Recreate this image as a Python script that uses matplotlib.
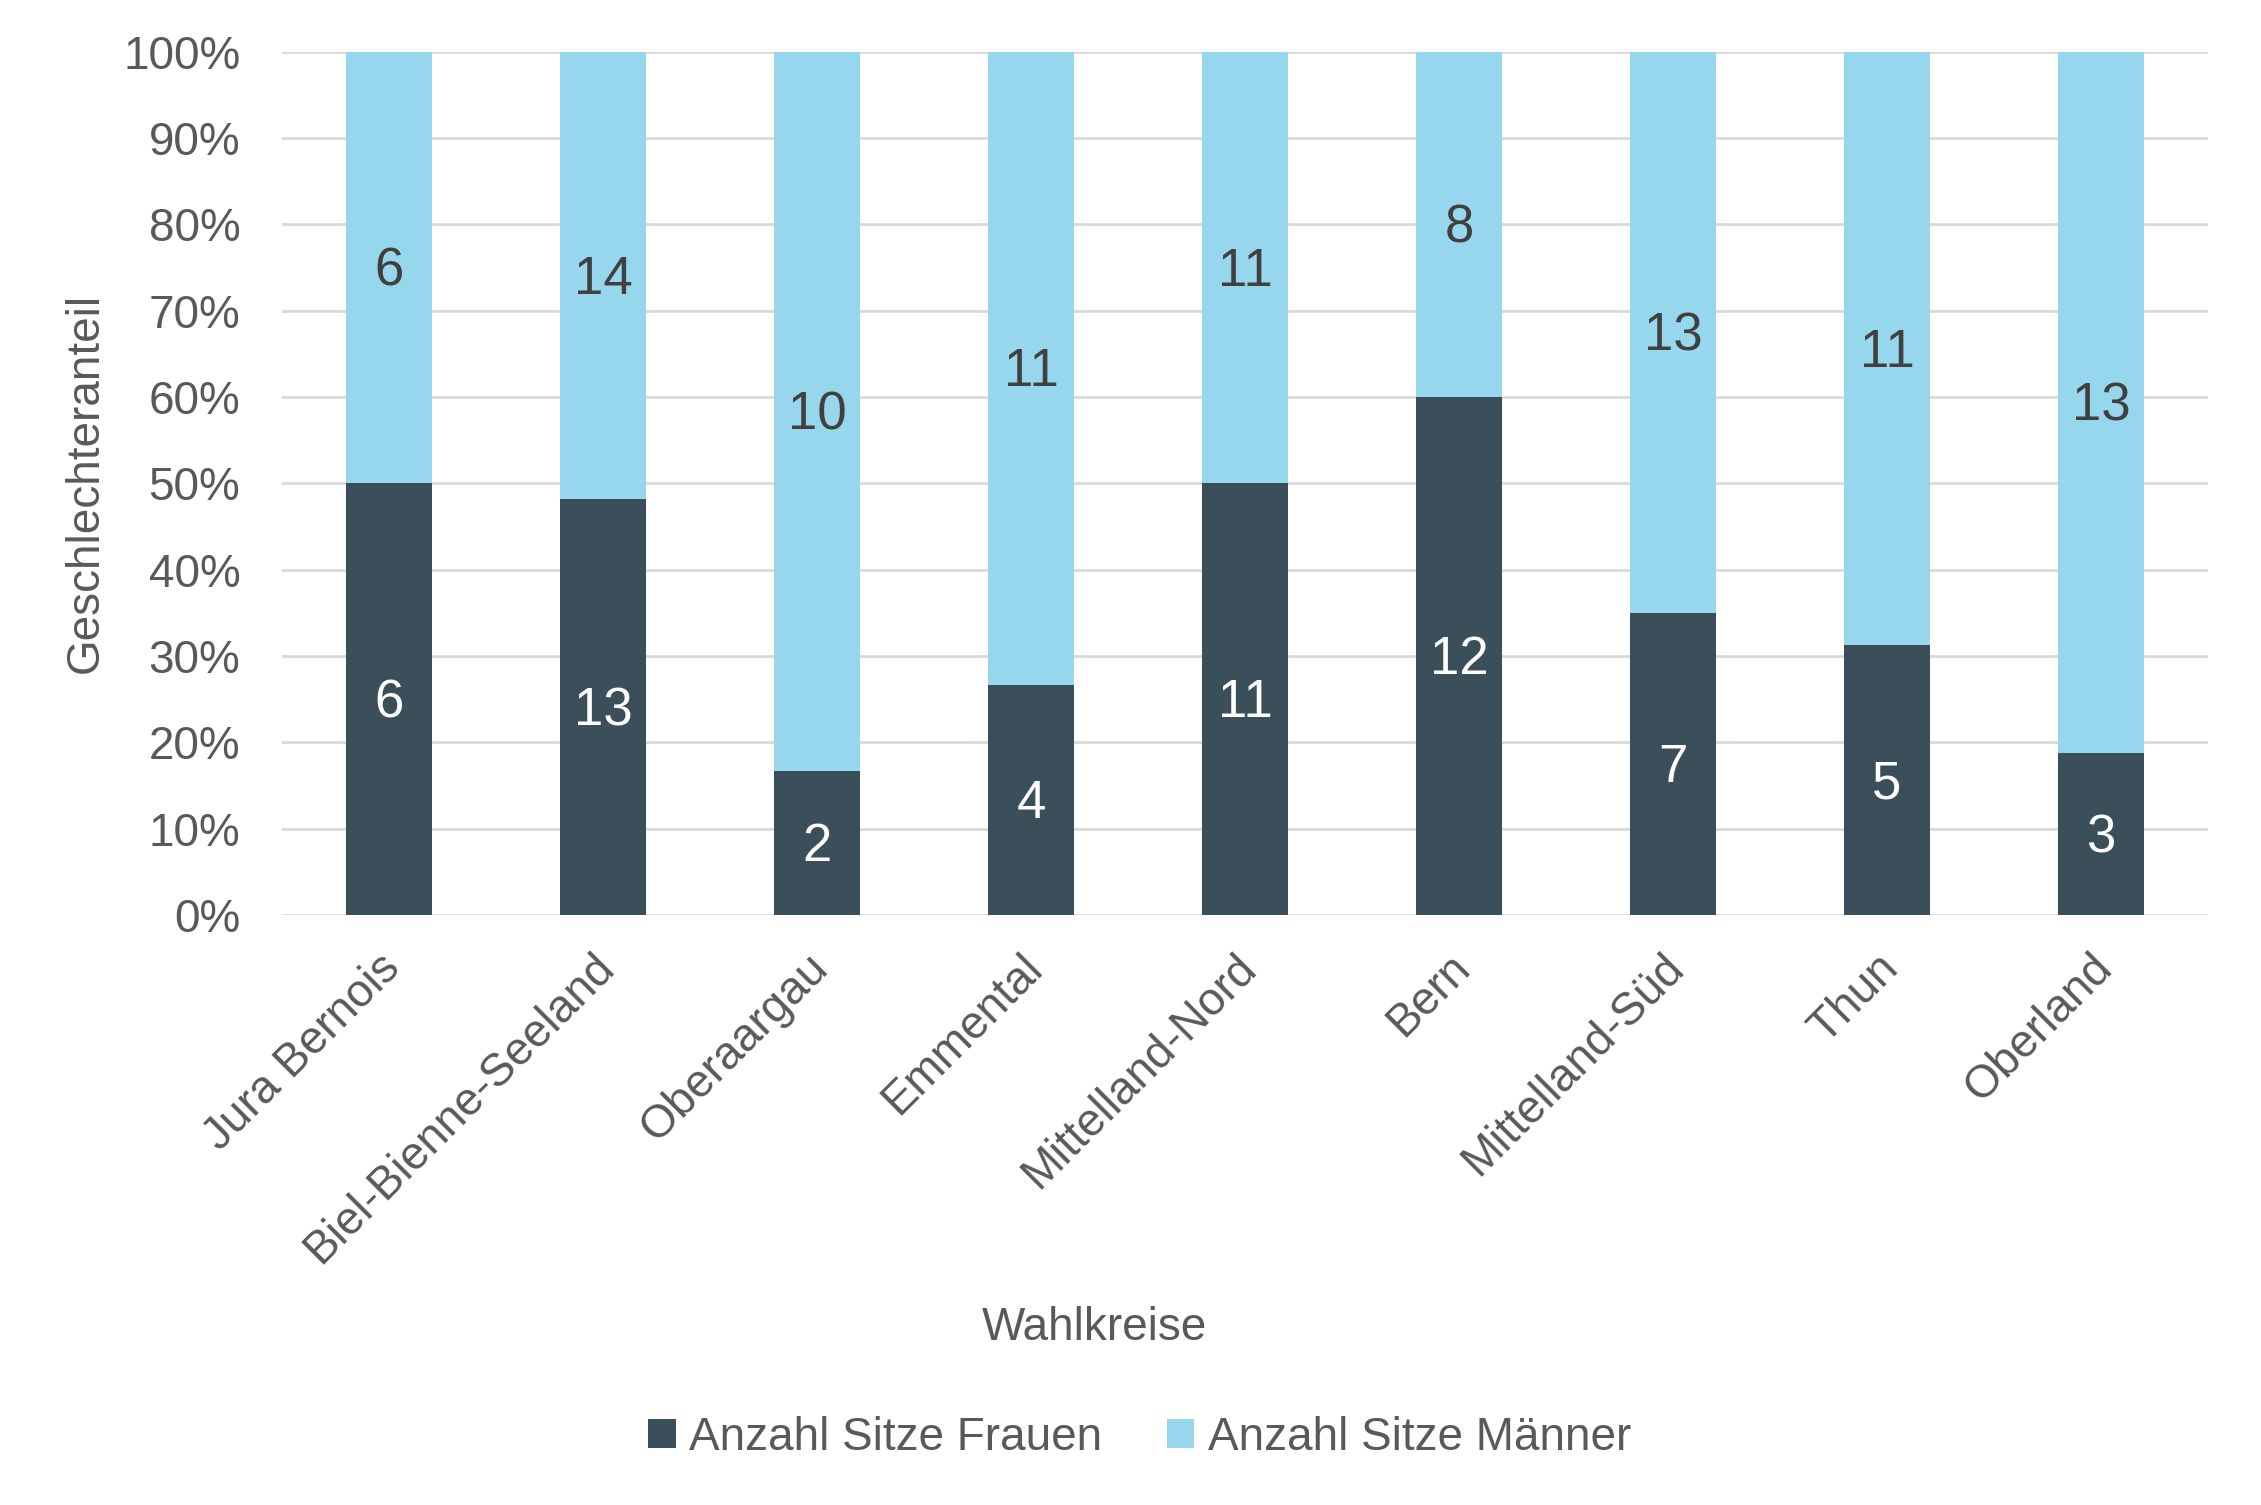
import matplotlib.pyplot as plt
import matplotlib.transforms as mtransforms
import numpy as np
from matplotlib.ticker import PercentFormatter

plt.rcParams['font.family'] = ['Liberation Sans', 'DejaVu Sans']

wahlkreise = ["Jura Bernois", "Biel-Bienne-Seeland", "Oberaargau", "Emmental",
              "Mittelland-Nord", "Bern", "Mittelland-Süd", "Thun", "Oberland"]
frauen = [6, 13, 2, 4, 11, 12, 7, 5, 3]
maenner = [6, 14, 10, 11, 11, 8, 13, 11, 13]

dark = '#3B4F5A'
light = '#97D7EE'
txt = '#595959'

frauen = np.array(frauen, dtype=float)
maenner = np.array(maenner, dtype=float)
total = frauen + maenner
f_share = frauen / total
m_share = maenner / total

fig = plt.figure(figsize=(22.61, 15.05), dpi=100)
ax = fig.add_axes([0.1247, 0.392, 0.8519, 0.5737])

x = np.arange(len(wahlkreise))
w = 0.4
ax.bar(x, f_share, width=w, color=dark, label="Anzahl Sitze Frauen", zorder=2)
ax.bar(x, m_share, width=w, bottom=f_share, color=light, label="Anzahl Sitze Männer", zorder=2)

# Zahlen in die Segmente schreiben
for i in range(len(x)):
    ax.annotate(f"{int(frauen[i])}", (x[i], f_share[i] / 2), xytext=(0, -3),
                textcoords='offset points', ha='center', va='center',
                color='white', fontsize=38)
    ax.annotate(f"{int(maenner[i])}", (x[i], f_share[i] + m_share[i] / 2), xytext=(0, -3),
                textcoords='offset points', ha='center', va='center',
                color='#404040', fontsize=38)

ax.set_xlim(-0.5, len(x) - 0.5)
ax.set_ylim(0, 1)
ax.set_yticks(np.arange(0, 1.01, 0.1))
ax.yaxis.set_major_formatter(PercentFormatter(1.0, decimals=0))
ax.grid(axis='y', color='#D9D9D9', linewidth=2, zorder=0)
ax.set_axisbelow(True)
for s in ax.spines.values():
    s.set_visible(False)
ax.tick_params(length=0, labelsize=33, labelcolor=txt)
ax.tick_params(axis='y', pad=30)
ax.set_xticks(x)
ax.set_xticklabels(wahlkreise, rotation=45, ha='right', rotation_mode='anchor')
ax.tick_params(axis='x', pad=22)
shift = mtransforms.ScaledTranslation(-0.11, 0, fig.dpi_scale_trans)
for lbl in ax.get_xticklabels():
    lbl.set_transform(lbl.get_transform() + shift)

ax.set_ylabel("Geschlechteranteil", fontsize=33, color=txt, labelpad=11)
fig.text(1094 / 2261, 1 - 1328 / 1505, "Wahlkreise", ha='center', va='center', fontsize=33, color=txt)

fig.legend(loc='center', bbox_to_anchor=(0.504, 1 - 1438 / 1505), ncol=2, frameon=False,
           fontsize=33, labelcolor=txt, handlelength=0.6, handleheight=0.6,
           handletextpad=0.3, columnspacing=1.4)

fig.savefig("out.png", dpi=100)
